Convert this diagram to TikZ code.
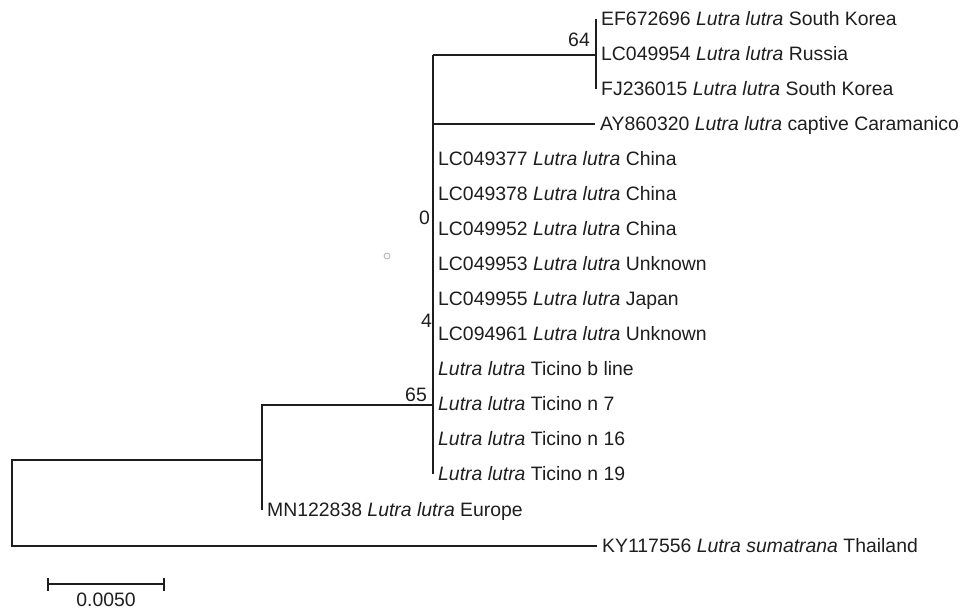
\documentclass[tikz,border=0pt]{standalone}
\usepackage{fontspec}
\setmainfont{Liberation Sans}
\usetikzlibrary{positioning, calc, arrows.meta}
\definecolor{treeInk}{HTML}{1E1E1E}

\begin{document}
\begin{tikzpicture}[
  x=1pt, y=-1pt,
  leaf/.style={anchor=west, inner xsep=5pt, inner ysep=0pt, text height=13.9pt, text depth=0pt, text=treeInk, font=\fontsize{19.4}{22}\selectfont},
  boot/.style={anchor=base east, inner sep=0pt, text=treeInk, font=\fontsize{19.4}{22}\selectfont},
  br/.style={line width=2pt, draw=treeInk}
]
\useasboundingbox (0,0) rectangle (962,612);

% leaves
\node[leaf] (ef) at (596,19) {EF672696 \textit{Lutra lutra} South Korea};
\node[leaf] (lc954) at (596,54) {LC049954 \textit{Lutra lutra} Russia};
\node[leaf] (fj) at (596,89) {FJ236015 \textit{Lutra lutra} South Korea};
\node[leaf] (ay) at (595,124) {AY860320 \textit{Lutra lutra} captive Caramanico};
\node[leaf] (lc377) at (433,159) {LC049377 \textit{Lutra lutra} China};
\node[leaf] (lc378) at (433,194) {LC049378 \textit{Lutra lutra} China};
\node[leaf] (lc952) at (433,229) {LC049952 \textit{Lutra lutra} China};
\node[leaf] (lc953) at (433,264) {LC049953 \textit{Lutra lutra} Unknown};
\node[leaf] (lc955) at (433,299) {LC049955 \textit{Lutra lutra} Japan};
\node[leaf] (lc961) at (433,334) {LC094961 \textit{Lutra lutra} Unknown};
\node[leaf] (tbl) at (433,369) {\textit{Lutra lutra} Ticino b line};
\node[leaf] (tn7) at (433,404) {\textit{Lutra lutra} Ticino n 7};
\node[leaf] (tn16) at (433,439) {\textit{Lutra lutra} Ticino n 16};
\node[leaf] (tn19) at (433,474) {\textit{Lutra lutra} Ticino n 19};
\node[leaf] (mn) at (262,510) {MN122838 \textit{Lutra lutra} Europe};
\node[leaf] (ky) at (597,546) {KY117556 \textit{Lutra sumatrana} Thailand};

% internal nodes
\coordinate (root) at (12,460);
\coordinate (nlu) at (262,460);
\coordinate (n65) at (433,405);
\coordinate (ntop) at (433,55);
\coordinate (n64) at (596,55);
\coordinate (n0) at (433,229);
\coordinate (n4) at (433,334);

% branches
\draw[br] (nlu) -- (root) |- (ky.west);
\draw[br] (n65) -| (nlu) |- (mn.west);
\draw[br] (ntop) -- (n64);
\draw[br] (ef.west) -- (fj.west);
\draw[br] (ntop) -- (tn19.west);
\draw[br] (ay.west -| ntop) -- (ay.west);

% bootstrap values
\node[boot] (b64) at ($(n64)+(-6,-8)$) {64};
\node[boot] (b0) at ($(n0)+(-3,-4)$) {0};
\node[boot] (b4) at ($(n4)+(-1,-6)$) {4};
\node[boot] (b65) at ($(n65)+(-6,-3)$) {65};

\node[circle, draw=gray!60, line width=0.8pt, inner sep=0pt, minimum size=6pt] (spot) at (387,256) {};

% scale bar
\coordinate (sbl) at (47,584);
\coordinate (sbr) at (165,584);
\draw[br, {Bar[width=13pt]}-{Bar[width=13pt]}] (sbl) -- (sbr);
\node[leaf, anchor=center, inner xsep=0pt] (sbtext) at (106,600) {0.0050};
\end{tikzpicture}
\end{document}
